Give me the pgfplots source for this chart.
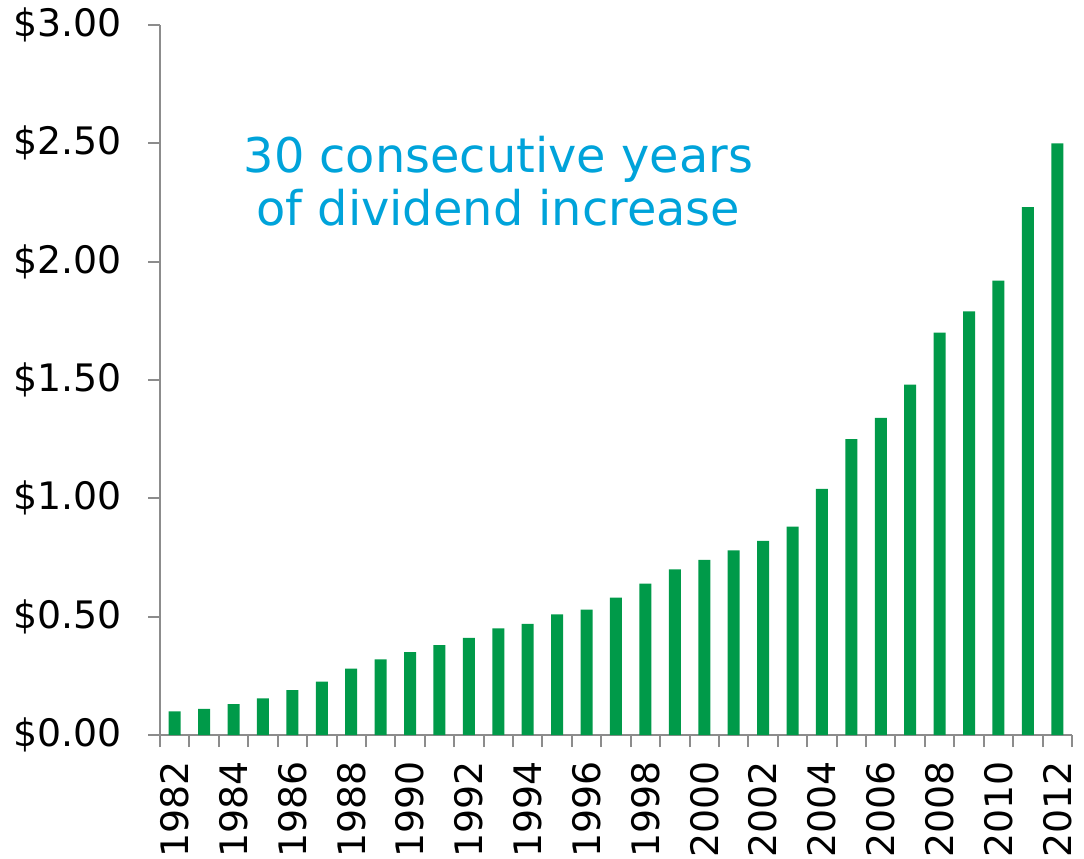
\documentclass[border=0pt]{standalone}
\usepackage{pgfplots}
\pgfplotsset{compat=1.18}
\usepackage{fontspec}
\setmainfont{DejaVu Sans}
\definecolor{barg}{HTML}{009A49}
\definecolor{axg}{HTML}{8C8C8C}
\definecolor{annb}{HTML}{00A3DA}
\begin{document}
\begin{tikzpicture}
\begin{axis}[
  scale only axis,
  width=456bp, height=355bp,
  xmin=1981.5, xmax=2012.5,
  ymin=0, ymax=3,
  axis x line*=bottom, axis y line*=left,
  axis line style={axg, line width=1bp},
  every tick/.style={axg, line width=1bp},
  tick align=outside,
  major tick length=6bp,
  minor tick length=6bp,
  xtick={1982,1984,...,2012},
  major x tick style={draw=none},
  minor xtick={1981.5,1982.5,...,2012.5},
  minor x tick style={draw=axg, line width=1bp},
  xticklabel style={rotate=90, anchor=east, font=\fontsize{19}{19}\selectfont, inner sep=0pt},
  xticklabel={\pgfmathprintnumber[1000 sep={}]{\tick}},
  xticklabel shift=7bp,
  ytick={0,0.5,...,3},
  yticklabel={\$\pgfmathprintnumber[fixed,fixed zerofill,precision=2]{\tick}},
  yticklabel style={font=\fontsize{19}{19}\selectfont, inner sep=0pt, anchor=east},
  yticklabel shift=13bp,
  /pgf/number format/assume math mode=true,
  clip=false,
]
\addplot[ybar, bar width=6bp, fill=barg, draw=none] coordinates {
(1982,0.10) (1983,0.11) (1984,0.13) (1985,0.155) (1986,0.19) (1987,0.225)
(1988,0.28) (1989,0.32) (1990,0.35) (1991,0.38) (1992,0.41) (1993,0.45)
(1994,0.47) (1995,0.51) (1996,0.53) (1997,0.58) (1998,0.64) (1999,0.70)
(2000,0.74) (2001,0.78) (2002,0.82) (2003,0.88) (2004,1.04) (2005,1.25)
(2006,1.34) (2007,1.48) (2008,1.70) (2009,1.79) (2010,1.92) (2011,2.23)
(2012,2.50)
};
\node[annb, align=center, font=\fontsize{24}{27}\selectfont] at (axis cs:1993,2.34) {30 consecutive years\\of dividend increase};
\coordinate (SW) at (rel axis cs:0,0);
\coordinate (NE) at (rel axis cs:1,1);
\end{axis}
\pgfresetboundingbox
\path ([shift={(-80bp,-62bp)}]SW) rectangle ([shift={(6bp,12.5bp)}]NE);
\end{tikzpicture}
\end{document}
